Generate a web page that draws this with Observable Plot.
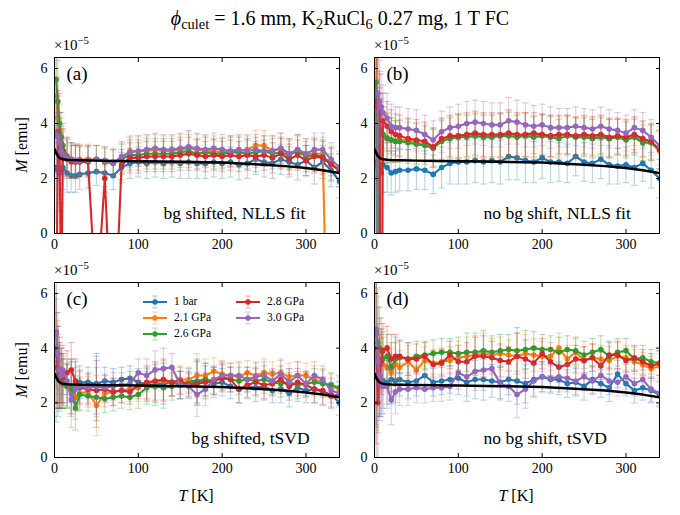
<!DOCTYPE html>
<html><head><meta charset="utf-8">
<script src="https://cdn.jsdelivr.net/npm/d3@7"></script>
<script src="https://cdn.jsdelivr.net/npm/@observablehq/plot@0.6"></script>
<style>
html,body{margin:0;padding:0;background:#fff;}
#wrap{position:relative;width:680px;height:515px;font-family:"Liberation Serif","Times New Roman",serif;color:#000;overflow:hidden;}
.ov{position:absolute;white-space:nowrap;line-height:1;}
.pl{position:absolute;}
sup{font-size:72%;vertical-align:0;position:relative;top:-0.6em;}
sub{font-size:72%;vertical-align:0;position:relative;top:0.3em;}
</style></head>
<body><div id="wrap"></div>
<script>
// Temperature grid [K]
const T = [2,4,6,8,10,15,20,25,30,40,50,60,70,80,90,100,110,120,130,140,150,160,170,180,190,200,210,220,230,240,250,260,270,280,290,300,310,320,330,340];
const seriesNames = ["1 bar","2.1 GPa","2.6 GPa","2.8 GPa","3.0 GPa"];
const seriesColors = ["#1f77b4","#ff7f0e","#2ca02c","#d62728","#9467bd"];

// M in units of 1e-5 emu
// (a) bg shifted, NLLS fit
const blueA   = [2.4,2.3,2.2,2.3,2.4,2.2,2.1,2.1,2.15, 2.2,2.25,2.2,2.1,2.4,2.55,2.6,2.55,2.6,2.55,2.6,2.55,2.6,2.55,2.55,2.6,2.55,2.6,2.5,2.55,2.7,2.6,2.55,2.7,2.6,2.5,2.65,2.4,2.6,2.3,1.9];
const orangeA = [5.0,4.2,3.6,3.3,3.0,2.8,2.7,2.65,2.7, 2.7,2.7,2.65,2.6,2.75,3.0,3.0,3.0,3.05,3.0,3.0,3.05,3.1,3.05,3.0,3.0,2.95,3.0,3.0,3.05,3.2,3.2,3.0,3.1,2.9,3.05,2.9,2.9,2.9,-10,-10];
const greenA  = [5.6,4.8,4.0,3.5,3.2,2.8,2.7,2.6,2.65, 2.65,2.7,2.6,2.55,2.7,2.85,2.85,2.9,2.9,2.9,2.9,2.95,3.0,2.9,2.95,2.9,2.9,2.95,2.95,2.9,2.95,3.0,2.9,2.95,2.85,3.0,2.8,2.85,2.8,2.55,2.3];
const redA    = [-4,3.7,3.3,-3,3.0,2.7,2.6,2.6,2.6, 2.6,-2.6,2.0,-4.7,2.5,2.75,2.75,2.8,2.8,2.8,2.8,2.85,2.9,2.85,2.8,2.85,2.8,2.85,2.8,2.85,2.8,2.85,2.75,2.9,2.7,2.85,2.65,2.8,2.75,2.5,2.3];
const purpleA = [3.6,3.5,3.3,3.0,2.9,2.75,2.7,2.65,2.65, 2.65,2.7,2.65,2.55,2.8,2.95,3.0,3.05,3.1,3.05,3.05,3.1,3.15,3.1,3.05,3.1,3.05,3.0,3.05,3.0,3.05,3.0,3.0,3.1,2.9,3.05,2.9,3.05,3.05,2.7,2.4];
const errA    = [2.0,1.5,1.1,0.9,0.8,0.7,0.6,0.6,0.55, 0.55,0.5,0.5,0.5,0.55,0.55,0.55,0.55,0.55,0.55,0.55,0.55,0.6,0.55,0.55,0.55,0.55,0.55,0.55,0.55,0.55,0.55,0.55,0.55,0.55,0.55,0.55,0.6,0.6,0.6,0.6];

// (b) no bg shift, NLLS fit
const blueB   = [2.6,2.4,2.3,2.2,2.5,2.4,2.2,2.25,2.3, 2.3,2.35,2.3,2.15,2.4,2.55,2.6,2.6,2.65,2.6,2.65,2.6,2.8,2.75,2.65,2.6,2.75,2.6,2.6,2.55,2.8,2.6,2.55,2.7,2.5,2.45,2.5,2.4,2.55,2.3,2.0];
const orangeB = [12,-10,4.3,3.9,3.6,3.5,3.4,3.35,3.4, 3.4,3.3,3.25,3.1,3.4,3.5,3.55,3.55,3.6,3.55,3.55,3.55,3.6,3.55,3.6,3.55,3.6,3.55,3.55,3.6,3.5,3.55,3.5,3.55,3.45,3.5,3.45,3.55,3.4,3.3,3.0];
const greenB  = [5.5,-10,3.8,3.7,3.6,3.45,3.4,3.35,3.35, 3.3,3.25,3.2,3.1,3.35,3.45,3.5,3.5,3.55,3.5,3.5,3.55,3.55,3.5,3.55,3.5,3.55,3.5,3.45,3.55,3.5,3.5,3.45,3.5,3.45,3.5,3.4,3.5,3.3,3.3,3.05];
const redB    = [4.8,4.6,4.4,-10,4.1,3.9,3.7,3.6,3.55, 3.45,3.4,3.35,3.15,3.45,3.55,3.55,3.6,3.65,3.6,3.6,3.6,3.65,3.6,3.6,3.65,3.6,3.55,3.6,3.6,3.55,3.6,3.55,3.6,3.5,3.55,3.5,3.6,3.45,3.35,3.05];
const purpleB = [-10,5.1,4.8,4.6,4.4,4.2,3.9,3.85,3.85, 3.8,3.75,3.6,3.4,3.7,3.85,3.9,4.0,4.05,4.0,3.95,3.95,4.1,4.05,3.95,3.9,3.95,3.85,3.85,3.85,3.9,3.85,3.8,3.9,3.8,3.75,3.65,3.85,3.75,3.5,3.2];
const errB    = [3.0,2.0,1.5,1.2,1.0,0.9,0.8,0.75,0.75, 0.75,0.75,0.7,0.7,0.75,0.75,0.8,0.8,0.8,0.8,0.8,0.8,0.85,0.8,0.8,0.75,0.75,0.75,0.7,0.7,0.7,0.7,0.7,0.7,0.7,0.65,0.65,0.65,0.65,0.65,0.7];

// (c) bg shifted, tSVD
const blueC   = [3.3,3.0,2.9,2.8,2.7,2.65,2.6,2.7,2.75, 2.75,2.7,2.8,2.75,2.85,2.9,2.75,2.65,2.7,2.7,2.75,2.65,2.8,2.8,2.85,2.7,2.75,2.6,2.5,2.6,2.55,2.6,2.45,2.5,2.35,2.55,2.45,2.5,2.4,2.3,2.0];
const orangeC = [4.5,3.5,3.2,3.0,2.8,2.6,2.6,2.2,2.35, 2.4,1.9,2.35,2.4,2.45,2.5,2.55,2.7,2.75,2.8,2.75,2.85,2.85,3.0,3.0,3.15,3.05,3.0,2.95,3.1,3.0,3.1,3.05,3.1,2.95,3.0,3.0,2.85,2.75,2.6,2.5];
const greenC  = [4.0,3.3,3.0,2.8,2.7,2.6,2.5,1.8,2.3, 2.25,2.2,2.15,2.2,2.25,2.2,2.3,2.55,2.6,2.55,2.6,2.65,2.7,2.75,2.85,2.8,2.95,2.85,2.8,2.85,2.8,2.85,2.75,2.7,2.75,2.65,2.7,2.75,2.7,2.65,2.55];
const redC    = [3.8,3.3,3.0,3.0,2.9,3.1,3.2,2.8,2.55, 2.5,2.45,2.5,2.4,2.45,2.4,2.65,2.75,2.8,2.85,2.75,2.8,2.65,2.7,2.75,2.8,2.9,2.85,2.5,2.65,2.75,2.65,2.7,2.85,2.6,2.75,2.65,2.5,2.45,2.25,2.3];
const purpleC = [4.6,3.8,3.2,3.0,3.2,2.8,2.1,2.5,2.6, 2.55,2.6,2.55,2.6,2.65,2.7,3.1,3.0,3.2,3.25,3.3,2.65,2.6,2.3,2.5,2.85,3.0,3.0,3.0,2.85,2.95,3.0,2.8,3.05,2.75,3.0,2.7,3.0,2.85,2.45,2.35];
const errC    = [2.0,1.5,1.2,1.0,0.9,0.8,1.0,0.8,0.6, 0.55,1.1,0.5,0.5,0.45,0.45,0.5,0.6,0.7,0.75,0.5,0.5,0.45,0.8,0.6,0.5,0.5,0.45,0.5,0.45,0.5,0.5,0.45,0.5,0.5,0.5,0.45,0.5,0.5,0.45,0.45];

// (d) no bg shift, tSVD
const blueD   = [3.0,2.9,2.85,2.8,2.8,2.75,2.85,2.8,2.85, 2.75,2.8,3.0,2.75,2.8,2.85,2.9,2.75,2.85,2.85,2.8,2.75,2.85,2.8,2.7,2.85,2.95,2.85,2.85,2.7,2.75,2.6,2.85,2.7,2.55,3.05,2.7,2.45,2.55,2.45,2.3];
const orangeD = [4.5,3.9,3.6,3.5,3.4,3.3,3.1,3.4,3.3, 3.5,3.2,3.55,3.45,3.5,3.55,3.65,3.7,3.75,3.8,3.75,3.8,3.75,3.7,3.8,3.75,3.7,3.7,4.0,3.6,3.85,3.55,3.65,3.6,3.55,3.7,3.65,3.5,3.4,3.25,3.35];
const greenD  = [4.6,4.2,4.0,3.9,3.6,3.7,3.3,3.6,3.65, 3.6,3.7,3.75,3.8,3.85,3.85,3.8,3.85,3.85,3.9,3.85,3.9,3.95,3.9,3.95,4.0,3.95,3.95,3.85,3.95,3.9,3.75,3.85,3.95,3.7,3.85,3.9,3.6,3.65,3.5,3.45];
const redD    = [4.0,2.0,3.0,3.5,3.9,4.0,3.6,3.7,3.7, 3.6,3.6,3.7,3.4,3.45,3.75,3.5,3.5,3.7,3.7,3.65,3.55,3.5,3.7,3.6,3.45,3.8,3.5,3.3,3.4,3.6,3.55,3.65,3.35,3.75,3.75,3.55,3.65,3.5,3.35,3.45];
const purpleD = [4.7,3.5,3.0,2.7,2.6,2.6,2.1,2.4,2.5, 2.5,2.55,2.5,2.55,2.55,2.6,3.1,2.95,3.15,3.2,3.25,2.7,2.6,2.3,2.5,2.8,2.95,2.9,2.95,2.9,2.8,2.95,2.8,3.0,2.8,2.75,2.95,2.7,2.85,2.5,2.35];
const errD    = [3.5,2.0,1.5,1.2,1.0,0.8,0.9,0.8,0.6, 0.6,0.55,0.5,0.5,0.5,0.5,0.6,0.7,0.7,0.75,0.6,0.6,0.55,0.85,0.7,0.6,0.55,0.5,0.55,0.5,0.5,0.5,0.5,0.5,0.5,0.5,0.45,0.45,0.45,0.45,0.45];

// black reference curve
const refT = [0.5,1,2,3,4,5,7,10,15,20,30,50,75,100,150,200,250,275,300,320,340];
const refM = [3.05,3.0,2.93,2.87,2.82,2.78,2.73,2.7,2.68,2.67,2.66,2.65,2.64,2.63,2.61,2.58,2.5,2.45,2.38,2.3,2.2];

const xTicks = [0,100,200,300];
const yTicks = [0,2,4,6];
const panelLabels = ["(a)","(b)","(c)","(d)"];
const panelNotes = ["bg shifted, NLLS fit","no bg shift, NLLS fit","bg shifted, tSVD","no bg shift, tSVD"];

const panels = [
  {vals:[blueA,orangeA,greenA,redA,purpleA], err:errA, left:0,   top:35,  w:340, h:222, mL:54, mR:1,  mT:22, mB:24, noteDx:109, noteDy:-20},
  {vals:[blueB,orangeB,greenB,redB,purpleB], err:errB, left:340, top:35,  w:340, h:222, mL:34, mR:21, mT:22, mB:24, noteDx:109, noteDy:-20},
  {vals:[blueC,orangeC,greenC,redC,purpleC], err:errC, left:0,   top:258, w:340, h:257, mL:54, mR:1,  mT:24, mB:58, noteDx:137, noteDy:-19},
  {vals:[blueD,orangeD,greenD,redD,purpleD], err:errD, left:340, top:258, w:340, h:257, mL:34, mR:21, mT:24, mB:58, noteDx:109, noteDy:-19}
];

const capSym = {draw(ctx, size){ const r = Math.sqrt(size/Math.PI); ctx.moveTo(-r,0); ctx.lineTo(r,0);} };
const wrap = document.getElementById("wrap");
function addDiv(html, css){ const d=document.createElement("div"); d.className="ov"; d.innerHTML=html; Object.assign(d.style, css); wrap.appendChild(d); return d; }

const refRows = refT.map((t,i)=>({T:t, M:refM[i]}));
const intFmt = d3.format("d");

panels.forEach((p, pi) => {
  const marks = [];
  p.vals.forEach((arr, si) => {
    const rows = T.map((t,i)=>({T:t, M:arr[i], e:p.err[i]}));
    const c = seriesColors[si];
    marks.push(Plot.ruleX(rows, {x:"T", y1:d=>d.M-d.e, y2:d=>d.M+d.e, stroke:c, strokeOpacity:0.3, strokeWidth:1.2, clip:true}));
    marks.push(Plot.dot(rows, {x:"T", y:d=>d.M+d.e, symbol:capSym, r:3.3, fill:"none", stroke:c, strokeOpacity:0.3, strokeWidth:1.2, clip:true}));
    marks.push(Plot.dot(rows, {x:"T", y:d=>d.M-d.e, symbol:capSym, r:3.3, fill:"none", stroke:c, strokeOpacity:0.3, strokeWidth:1.2, clip:true}));
    marks.push(Plot.line(rows, {x:"T", y:"M", stroke:c, strokeWidth:2.1, clip:true}));
    marks.push(Plot.dot(rows, {x:"T", y:"M", r:2.8, fill:c, stroke:"none", clip:true}));
  });
  marks.push(Plot.line(refRows, {x:"T", y:"M", stroke:"black", strokeWidth:2.5, clip:true}));
  marks.push(Plot.frame({stroke:"black", strokeWidth:1}));
  marks.push(Plot.axisX({anchor:"bottom", ticks:xTicks, tickSize:-4, tickPadding:10, tickFormat:intFmt, label:null, fontSize:14}));
  marks.push(Plot.axisX({anchor:"top", ticks:xTicks, tickSize:-4, tickFormat:()=>"", label:null}));
  marks.push(Plot.axisY({anchor:"left", ticks:yTicks, tickSize:-4, tickPadding:11, tickFormat:intFmt, label:null, fontSize:14}));
  marks.push(Plot.axisY({anchor:"right", ticks:yTicks, tickSize:-4, tickFormat:()=>"", label:null}));
  marks.push(Plot.text([panelLabels[pi]], {text:d=>d, frameAnchor:"top-left", dx:12, dy:16, textAnchor:"start", lineAnchor:"middle", fontSize:19}));
  marks.push(Plot.text([panelNotes[pi]], {text:d=>d, frameAnchor:"bottom-left", dx:p.noteDx, dy:p.noteDy, textAnchor:"start", lineAnchor:"middle", fontSize:17.5}));

  const svg = Plot.plot({
    width:p.w, height:p.h, marginLeft:p.mL, marginRight:p.mR, marginTop:p.mT, marginBottom:p.mB,
    x:{domain:[0,340]}, y:{domain:[0,6.4]},
    style:{fontFamily:'"Liberation Serif", serif', fontSize:"14px", color:"black", background:"transparent", overflow:"visible"},
    marks
  });
  svg.classList.add("pl");
  svg.style.position = "absolute";
  svg.style.left = p.left + "px";
  svg.style.top = p.top + "px";
  wrap.appendChild(svg);

  // ×10^-5 offset label
  addDiv("×10<sup>−5</sup>", {left:(p.left+p.mL)+"px", top:(p.top+p.mT-19)+"px", fontSize:"15px"});
});

// Title
addDiv('<i>ϕ</i><sub>culet</sub> = 1.6 mm, K<sub>2</sub>RuCl<sub>6</sub> 0.27 mg, 1 T FC',
  {left:"0px", top:"8px", width:"680px", textAlign:"center", fontSize:"20px"});

// Axis labels
[145, 370].forEach(cy=>{
  const d = addDiv('<i>M</i> [emu]', {left:"22px", top:cy+"px", fontSize:"16px"});
  d.style.transform = "translate(-50%,-50%) rotate(-90deg)";
});
[196, 516].forEach(cx=>{
  const d = addDiv('<i>T</i> [K]', {left:cx+"px", top:"496px", fontSize:"16px"});
  d.style.transform = "translate(-50%,-50%)";
});

// Legend in panel (c)
const legPos = [[143,302],[143,318],[143,334],[236,302],[236,318]];
seriesNames.forEach((name, si)=>{
  const [lx, ly] = legPos[si];
  const c = seriesColors[si];
  const html = `<svg width="24" height="14" style="vertical-align:middle">
    <line x1="12" x2="12" y1="1" y2="13" stroke="${c}" stroke-opacity="0.3" stroke-width="1.2"/>
    <line x1="9" x2="15" y1="1" y2="1" stroke="${c}" stroke-opacity="0.3" stroke-width="1.2"/>
    <line x1="9" x2="15" y1="13" y2="13" stroke="${c}" stroke-opacity="0.3" stroke-width="1.2"/>
    <line x1="0" x2="24" y1="7" y2="7" stroke="${c}" stroke-width="2"/>
    <circle cx="12" cy="7" r="2.7" fill="${c}"/></svg><span style="margin-left:7px;vertical-align:middle">${name}</span>`;
  addDiv(html, {left:lx+"px", top:(ly-7)+"px", fontSize:"11.5px"});
});
</script>
</body></html>
